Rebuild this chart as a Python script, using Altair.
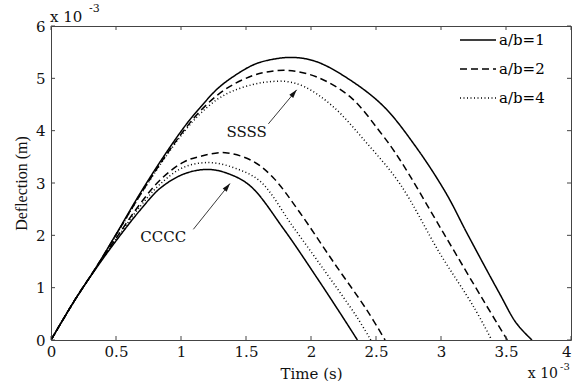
import math
import altair as alt
import pandas as pd

# ---- data (time in 1e-3 s, deflection in 1e-3 m) ----
ssss_1_t = [0, 0.185, 0.35, 0.505, 0.685, 0.865, 1.04, 1.15, 1.28, 1.40, 1.55, 1.66, 1.85, 2.04, 2.30, 2.56, 2.81, 3.04, 3.20, 3.45, 3.58, 3.70]
ssss_1_w = [0, 0.77, 1.40, 2.04, 2.80, 3.50, 4.12, 4.45, 4.80, 5.03, 5.25, 5.34, 5.40, 5.32, 4.97, 4.46, 3.68, 2.80, 2.04, 0.89, 0.32, 0]

ssss_2_t = [0, 0.185, 0.35, 0.505, 0.685, 0.865, 1.04, 1.15, 1.28, 1.40, 1.55, 1.66, 1.825, 2.04, 2.30, 2.53, 2.685, 3.02, 3.325, 3.51]
ssss_2_w = [0, 0.77, 1.40, 2.03, 2.77, 3.46, 4.06, 4.38, 4.68, 4.88, 5.05, 5.12, 5.15, 5.03, 4.65, 3.98, 3.44, 2.04, 0.76, 0]

ssss_4_t = [0, 0.185, 0.35, 0.505, 0.685, 0.865, 1.04, 1.15, 1.28, 1.40, 1.55, 1.66, 1.81, 1.95, 2.17, 2.43, 2.685, 2.99, 3.25, 3.39]
ssss_4_w = [0, 0.77, 1.39, 2.02, 2.76, 3.44, 4.03, 4.33, 4.60, 4.76, 4.88, 4.93, 4.94, 4.84, 4.46, 3.76, 2.98, 1.66, 0.64, 0]

cccc_1_t = [0, 0.185, 0.35, 0.505, 0.685, 0.84, 1.02, 1.20, 1.35, 1.53, 1.79, 2.04, 2.22, 2.357]
cccc_1_w = [0, 0.77, 1.38, 1.91, 2.48, 2.90, 3.17, 3.26, 3.19, 2.95, 2.12, 1.21, 0.53, 0]

cccc_2_t = [0, 0.185, 0.35, 0.505, 0.685, 0.84, 1.02, 1.15, 1.34, 1.55, 1.71, 1.91, 2.17, 2.43, 2.57]
cccc_2_w = [0, 0.77, 1.39, 1.96, 2.60, 3.06, 3.40, 3.51, 3.58, 3.42, 3.10, 2.45, 1.50, 0.57, 0]

cccc_4_t = [0, 0.185, 0.35, 0.505, 0.685, 0.84, 1.02, 1.22, 1.42, 1.61, 1.86, 2.12, 2.35, 2.46]
cccc_4_w = [0, 0.77, 1.39, 1.94, 2.55, 2.98, 3.30, 3.39, 3.28, 3.03, 2.17, 1.27, 0.45, 0]

ratios = ["a/b=1", "a/b=2", "a/b=4"]
x_ticks = [0, 0.5, 1, 1.5, 2, 2.5, 3, 3.5, 4]
y_ticks = [0, 1, 2, 3, 4, 5, 6]

labels = ["SSSS", "CCCC"]
label_t = [1.505, 0.864]
label_w = [3.98, 1.96]
arrow_tail_t = [1.672, 1.095]
arrow_tail_w = [4.13, 2.115]
arrow_head_t = [1.89, 1.377]
arrow_head_w = [4.78, 2.99]

W, H = 520, 314
XMAX, YMAX = 4, 6

series = [
    ("SSSS", "a/b=1", ssss_1_t, ssss_1_w),
    ("SSSS", "a/b=2", ssss_2_t, ssss_2_w),
    ("SSSS", "a/b=4", ssss_4_t, ssss_4_w),
    ("CCCC", "a/b=1", cccc_1_t, cccc_1_w),
    ("CCCC", "a/b=2", cccc_2_t, cccc_2_w),
    ("CCCC", "a/b=4", cccc_4_t, cccc_4_w),
]
rows = []
for bc, r, ts, ws in series:
    for t, w in zip(ts, ws):
        rows.append({"t": t, "w": w, "ratio": r, "sid": bc + r})
df = pd.DataFrame(rows)

ann = pd.DataFrame({"label": labels, "t": label_t, "w": label_w})
arr = pd.DataFrame({
    "t": arrow_tail_t, "w": arrow_tail_w,
    "hx": arrow_head_t, "hy": arrow_head_w,
})
arr["ang"] = [
    math.degrees(math.atan2((hx - tx) * W / XMAX, (hy - ty) * H / YMAX))
    for tx, ty, hx, hy in zip(arr.t, arr.w, arr.hx, arr.hy)
]
heads_df = pd.DataFrame({"t": arrow_head_t, "w": arrow_head_w, "ang": arr["ang"]})
dfx = pd.DataFrame({"t": x_ticks})
dfy = pd.DataFrame({"w": y_ticks})

FONT = "DejaVu Serif"
xs = alt.Scale(domain=[0, XMAX], nice=False, zero=False)
ys = alt.Scale(domain=[0, YMAX], nice=False, zero=False)

X_AX = alt.Axis(
    title="Time (s)", values=x_ticks, format="~g", grid=False, domain=False, ticks=False,
    labelFont=FONT, labelFontSize=15, labelColor="#111", labelPadding=4,
    labelFlush=False, labelBound=False,
    labelAlign={"expr": "datum.value >= 4 ? 'right' : 'center'"},
    titleFont=FONT, titleFontSize=15, titleFontWeight="normal", titleColor="#111",
    titleBaseline="middle", titleY=33)
Y_AX = alt.Axis(
    title="Deflection (m)", values=y_ticks, format="d", grid=False, domain=False, ticks=False,
    labelFont=FONT, labelFontSize=15, labelColor="#111", labelPadding=6,
    labelFlush=False, labelBound=False,
    titleFont="Liberation Serif", titleFontSize=16, titleFontWeight="normal", titleColor="#111",
    titleX=-30, titleY=H / 2, titleAlign="center", titleBaseline="middle", titleAngle=270)


def X(field="t"):
    return alt.X(f"{field}:Q", scale=xs, axis=X_AX)


def Y(field="w"):
    return alt.Y(f"{field}:Q", scale=ys, axis=Y_AX)


lines = alt.Chart(df).mark_line(color="black", strokeWidth=1.5, interpolate="catmull-rom", clip=True).encode(
    x=X(), y=Y(),
    detail="sid:N",
    strokeDash=alt.StrokeDash("ratio:N", scale=alt.Scale(domain=ratios, range=[[1, 0], [7, 4], [1, 2.5]]),
        legend=alt.Legend(orient="none", legendX=408, legendY=-5, title=None, symbolType="stroke",
                          symbolSize=1296, symbolStrokeWidth=1.5, symbolStrokeColor="black",
                          labelFont=FONT, labelFontSize=15, labelColor="black", labelOffset=2,
                          rowPadding=2, padding=0)),
)

tick_color = "#444"
bottom = alt.Chart(dfx).mark_rule(color=tick_color).encode(x=X(), y=alt.value(H), y2=alt.value(H - 4))
top = alt.Chart(dfx).mark_rule(color=tick_color).encode(x=X(), y=alt.value(0), y2=alt.value(4))
left = alt.Chart(dfy).mark_rule(color=tick_color).encode(y=Y(), x=alt.value(0), x2=alt.value(4))
right = alt.Chart(dfy).mark_rule(color=tick_color).encode(y=Y(), x=alt.value(W), x2=alt.value(W - 4))

texts = alt.Chart(ann).mark_text(font=FONT, fontSize=15, color="#111", align="center", baseline="middle").encode(
    x=X(), y=Y(), text="label:N")

shafts = alt.Chart(arr).mark_rule(color="#222", strokeWidth=0.9).encode(
    x=X(), y=Y(), x2="hx:Q", y2="hy:Q")
heads = alt.Chart(heads_df).mark_point(shape="M0,0L-0.6,2L0.6,2Z", filled=True, color="#111", size=72, opacity=1).encode(
    x=X(), y=Y(), angle=alt.Angle("ang:Q", scale=None))

corner = pd.DataFrame({"t": [0, XMAX], "w": [YMAX, 0]})
mult_top = alt.Chart(corner.iloc[[0]]).mark_text(font=FONT, fontSize=15, color="#111", align="left",
                                                 baseline="alphabetic", dx=-1, dy=-4).encode(
    x=X(), y=Y(), text=alt.value("x 10"))
exp_top = alt.Chart(corner.iloc[[0]]).mark_text(font=FONT, fontSize=11, color="#111", align="left",
                                                baseline="alphabetic", dx=38, dy=-14).encode(
    x=X(), y=Y(), text=alt.value("-3"))
mult_bot = alt.Chart(corner.iloc[[1]]).mark_text(font=FONT, fontSize=14, color="#111", align="right",
                                                 baseline="alphabetic", dx=-13, dy=38).encode(
    x=X(), y=Y(), text=alt.value("x 10"))
exp_bot = alt.Chart(corner.iloc[[1]]).mark_text(font=FONT, fontSize=10, color="#111", align="left",
                                                baseline="alphabetic", dx=-11, dy=30).encode(
    x=X(), y=Y(), text=alt.value("-3"))

chart = alt.layer(
    lines, bottom, top, left, right, texts, shafts, heads, mult_top, exp_top, mult_bot, exp_bot
).properties(
    width=W, height=H,
    autosize=alt.AutoSizeParams(type="none"),
    padding={"left": 51, "top": 26, "right": 3, "bottom": 41},
    background="white",
).configure_view(stroke="#444", strokeWidth=1)

chart.save("out.html", embed_options={"renderer": "svg", "actions": False})
